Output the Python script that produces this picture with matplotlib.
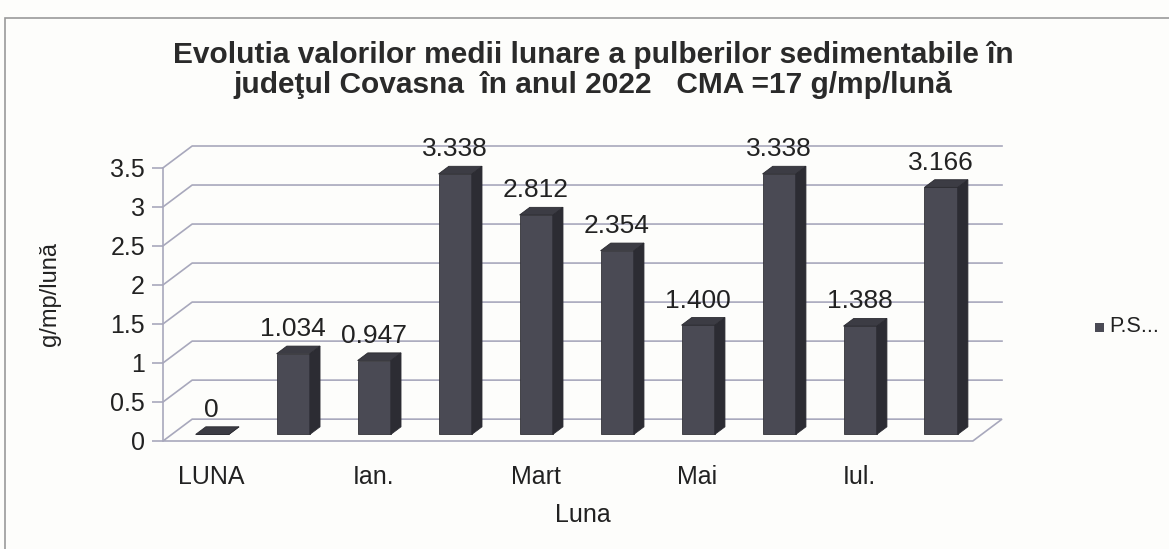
import matplotlib
matplotlib.use("Agg")
import matplotlib.pyplot as plt
from matplotlib.patches import Polygon, Rectangle
import numpy as np

plt.rcParams['font.family'] = ['Liberation Sans', 'DejaVu Sans']

values = [0, 1.034, 0.947, 3.338, 2.812, 2.354, 1.400, 3.338, 1.388, 3.166]
value_labels = ['0', '1.034', '0.947', '3.338', '2.812', '2.354', '1.400',
                '3.338', '1.388', '3.166']
tick_labels = ['LUNA', 'Ian.', 'Mart', 'Mai', 'Iul.']
y_ticks = [0, 0.5, 1, 1.5, 2, 2.5, 3, 3.5]
series_name = 'P.S...'

# fake 3d depth (category units / value units)
DX, DY = 0.36, 0.28
D0, D1 = 0.3, 0.65
W = 0.41

front = '#4a4a54'
side = '#2c2c33'
top = '#3c3c44'
grid = '#a8a8bc'
txt = '#222222'

fig = plt.figure(figsize=(11.69, 5.49), dpi=100)
fig.patch.set_facecolor('#fdfdfb')
ax = fig.add_axes([163 / 1169, 108 / 549, (1002 - 163) / 1169, 295 / 549])
ax.set_facecolor('none')
n = len(values)
x = np.arange(n)
ax.set_xlim(-0.5, n - 0.5 + DX)
ax.set_ylim(0, 3.5 + DY)

# floor, walls, gridlines
floor = Polygon([(-0.5, 0), (n - 0.5, 0), (n - 0.5 + DX, DY), (-0.5 + DX, DY)],
                closed=True, facecolor='none', edgecolor=grid, lw=1.2,
                clip_on=False, zorder=1)
ax.add_patch(floor)
for v in y_ticks[1:]:
    ax.plot([-0.5, -0.5 + DX, n - 0.5 + DX], [v, v + DY, v + DY],
            color=grid, lw=1.2, clip_on=False, zorder=1)

# bars
ax.bar(x + D0 * DX, values, width=W, bottom=D0 * DY, color=front,
       edgecolor='#333338', lw=0.6, zorder=3)
dd = D1 - D0
for i, v in enumerate(values):
    l = i - W / 2 + D0 * DX
    r = i + W / 2 + D0 * DX
    b = D0 * DY
    t = v + D0 * DY
    ax.add_patch(Polygon([(r, b), (r + dd * DX, b + dd * DY),
                          (r + dd * DX, t + dd * DY), (r, t)],
                         closed=True, facecolor=side, edgecolor=side,
                         lw=0.6, zorder=3, clip_on=False))
    ax.add_patch(Polygon([(l, t), (r, t), (r + dd * DX, t + dd * DY),
                          (l + dd * DX, t + dd * DY)],
                         closed=True, facecolor=top, edgecolor='#2a2a30',
                         lw=0.6, zorder=3, clip_on=False))
    ax.text(i + 0.1, v + 0.4, value_labels[i], ha='center', va='center',
            fontsize=19, color=txt, zorder=4, clip_on=False)

# axes styling
for s in ['top', 'right', 'bottom']:
    ax.spines[s].set_visible(False)
ax.spines['left'].set_bounds(0, 3.5)
ax.spines['left'].set_color(grid)
ax.spines['left'].set_linewidth(1.2)
ax.set_yticks(y_ticks)
ax.set_yticklabels(['0', '0.5', '1', '1.5', '2', '2.5', '3', '3.5'])
ax.tick_params(axis='y', length=8, color=grid, width=1.2, pad=5,
               labelsize=18, labelcolor=txt)
ax.set_xticks(x[::2] + 0.1)
ax.set_xticklabels(tick_labels)
ax.tick_params(axis='x', length=0, pad=17, labelsize=18, labelcolor=txt)
ax.set_xlabel('Luna', fontsize=18, color=txt, labelpad=10)
ax.set_ylabel('g/mp/lună', fontsize=17, color=txt)
ax.yaxis.set_label_coords(-0.122, 0.5)

# legend
fig.patches.append(Rectangle((1095 / 1169, (549 - 332) / 549), 9 / 1169, 9 / 549,
                             transform=fig.transFigure, facecolor=front,
                             edgecolor='none'))
fig.text(1109 / 1169, (549 - 327) / 549, series_name, fontsize=15.5,
         va='center', ha='left', color=txt)

fig.text(593 / 1169, (549 - 70) / 549,
         'Evolutia valorilor medii lunare a pulberilor sedimentabile în\n'
         'judeţul Covasna  în anul 2022   CMA =17 g/mp/lună',
         ha='center', va='center', fontsize=21.5, fontweight='bold',
         color='#2a2a2a', linespacing=1.05)

# chart frame
fig.patches.append(Rectangle((5 / 1169, -0.02), 1.05, (549 - 18) / 549 + 0.02,
                             transform=fig.transFigure, facecolor='none',
                             edgecolor='#9a9a9a', lw=1.2))

fig.savefig('out.png', dpi=100, facecolor=fig.get_facecolor())
